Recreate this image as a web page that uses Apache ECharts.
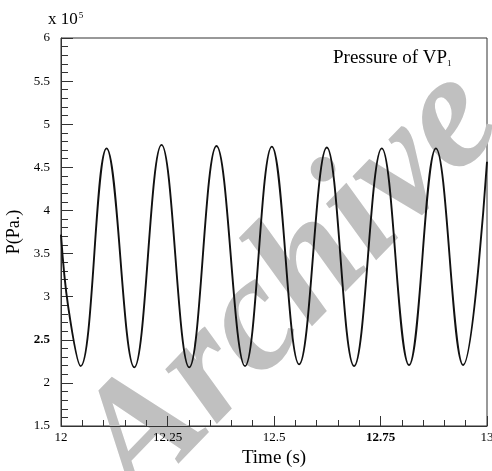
<!DOCTYPE html>
<html>
<head>
<meta charset="utf-8">
<script src="https://cdn.jsdelivr.net/npm/echarts@6/dist/echarts.min.js"></script>
<style>html,body{margin:0;padding:0;background:#fff}#c{width:492px;height:471px}</style>
</head>
<body>
<div id="c"></div>
<script>
// Time (s) and pressure (x 10^5 Pa)
var timeValues = [12.000, 12.017, 12.046, 12.107, 12.172, 12.236, 12.301, 12.365, 12.432, 12.495, 12.559, 12.624, 12.688, 12.753, 12.817, 12.880, 12.944, 13.000];
var pressureValues = [3.72, 2.88, 2.195, 4.72, 2.18, 4.76, 2.18, 4.747, 2.195, 4.74, 2.215, 4.73, 2.195, 4.72, 2.207, 4.72, 2.207, 4.565];
var xTickLabels = ['12', '12.25', '12.5', '12.75', '13'];
var yTickLabels = ['1.5', '2', '2.5', '3', '3.5', '4', '4.5', '5', '5.5', '6'];
var boldX = ['12.75'];
var boldY = ['2.5'];

var seriesData = timeValues.map(function (t, i) { return [t, pressureValues[i]]; });
var serif = "'Liberation Serif', 'Times New Roman', serif";

var chart = echarts.init(document.getElementById('c'), null, {renderer: 'canvas'});
chart.setOption({
  animation: false,
  backgroundColor: '#fff',
  grid: {left: 61, right: 5, top: 38, bottom: 45, outerBoundsMode: 'none', containLabel: false,
         show: true, borderColor: '#333', borderWidth: 1, backgroundColor: 'transparent'},
  graphic: [
    {type: 'text', z: 0, silent: true, x: 292, y: 286, rotation: 0.8,
     style: {text: 'Archive', font: 'italic bold 164px ' + serif, fill: '#c0c0c0', textAlign: 'center', textVerticalAlign: 'middle'}},
    {type: 'text', x: 48, y: 11, z: 10,
     style: {text: '{m|x 10}{s|5}', rich: {m: {fontFamily: serif, fontSize: 17, fill: '#000', verticalAlign: 'bottom'}, s: {fontFamily: serif, fontSize: 9, fill: '#000', verticalAlign: 'top', padding: [0, 0, 8, 1]}}}},
    {type: 'text', x: 333, y: 49, z: 10,
     style: {text: '{m|Pressure of VP}{s|1}', rich: {m: {fontFamily: serif, fontSize: 19, fill: '#000'}, s: {fontFamily: serif, fontSize: 9, fill: '#000', padding: [10, 0, 0, 0]}}}}
  ],
  xAxis: {
    type: 'value', min: 12, max: 13, interval: 0.25,
    name: 'Time (s)', nameLocation: 'middle', nameGap: 22,
    nameTextStyle: {fontFamily: serif, fontSize: 19, color: '#000'},
    axisLine: {show: true, lineStyle: {color: '#333', width: 1}},
    axisTick: {show: true, inside: true, length: 10, lineStyle: {color: '#333'}},
    minorTick: {show: true, splitNumber: 5, length: 6, lineStyle: {color: '#333'}},
    splitLine: {show: false},
    axisLabel: {
      margin: 5, fontFamily: serif, fontSize: 13, color: '#000', hideOverlap: false,
      formatter: function (v) {
        var idx = Math.round((v - 12) / 0.25);
        var s = xTickLabels[idx];
        return boldX.indexOf(s) >= 0 ? '{b|' + s + '}' : s;
      },
      rich: {b: {fontFamily: serif, fontSize: 13, fontWeight: 'bold', color: '#000'}}
    }
  },
  yAxis: {
    type: 'value', min: 1.5, max: 6, interval: 0.5,
    name: 'P(Pa.)', nameLocation: 'middle', nameGap: 37,
    nameTextStyle: {fontFamily: serif, fontSize: 18, color: '#000'},
    axisLine: {show: true, lineStyle: {color: '#333', width: 1}},
    axisTick: {show: true, inside: true, length: 12, lineStyle: {color: '#333'}},
    minorTick: {show: true, splitNumber: 5, length: 7, lineStyle: {color: '#333'}},
    splitLine: {show: false},
    axisLabel: {
      margin: 11, fontFamily: serif, fontSize: 13, color: '#000',
      formatter: function (v) {
        var idx = Math.round((v - 1.5) / 0.5);
        var s = yTickLabels[idx];
        return boldY.indexOf(s) >= 0 ? '{b|' + s + '}' : s;
      },
      rich: {b: {fontFamily: serif, fontSize: 13, fontWeight: 'bold', color: '#000'}}
    }
  },
  series: [{
    type: 'line', data: seriesData, showSymbol: false, smooth: 0.4, clip: true, z: 5,
    lineStyle: {color: '#111', width: 1.9}
  }]
});
</script>
</body>
</html>
